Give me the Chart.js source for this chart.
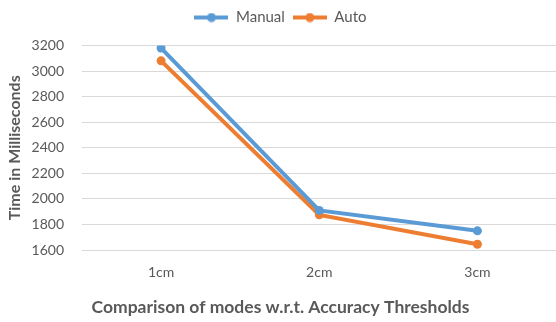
<!DOCTYPE html>
<html>
<head>
<meta charset="utf-8">
<script src="https://cdn.jsdelivr.net/npm/chart.js@4"></script>
<style>
  html, body { margin: 0; padding: 0; background: #fff; }
  .wrap { width: 556px; height: 322px; overflow: hidden; position: relative; }
  .wrap canvas { position: absolute; left: 0; top: 0; }
</style>
</head>
<body>
<div class="wrap"><canvas id="modesChart" width="561" height="322"></canvas></div>
<script>
const thresholds = ['1cm', '2cm', '3cm'];
const manualTimes = [3180, 1910, 1750];
const autoTimes = [3080, 1875, 1645];
const yTicks = [1600, 1800, 2000, 2200, 2400, 2600, 2800, 3000, 3200];

const blue = '#5B9BD5';
const orange = '#ED7D31';
const textGrey = '#595959';
const fontFamily = 'Lato, "Open Sans", sans-serif';

// legend marker: short line with a dot in the middle
function legendMarker(color) {
  const c = document.createElement('canvas');
  c.width = 34;
  c.height = 10;
  const g = c.getContext('2d');
  g.strokeStyle = color;
  g.lineWidth = 4;
  g.beginPath();
  g.moveTo(0, 5);
  g.lineTo(34, 5);
  g.stroke();
  g.fillStyle = color;
  g.beginPath();
  g.arc(17, 5, 4.5, 0, Math.PI * 2);
  g.fill();
  return c;
}
const markers = [legendMarker(blue), legendMarker(orange)];

// extra room between the legend and the plot
const legendGap = {
  id: 'legendGap',
  beforeInit(chart) {
    const fit = chart.legend.fit;
    chart.legend.fit = function() {
      fit.bind(chart.legend)();
      this.height += 10.5;
    };
  }
};

const ctx = document.getElementById('modesChart').getContext('2d');
const modesChart = new Chart(ctx, {
  type: 'line',
  data: {
    labels: thresholds,
    datasets: [{
      label: 'Manual',
      data: manualTimes,
      borderColor: blue,
      backgroundColor: blue,
      borderWidth: 4,
      pointRadius: 4.5,
      pointBorderWidth: 0,
      tension: 0
    }, {
      label: 'Auto',
      data: autoTimes,
      borderColor: orange,
      backgroundColor: orange,
      borderWidth: 4,
      pointRadius: 4.5,
      pointBorderWidth: 0,
      tension: 0
    }]
  },
  plugins: [legendGap],
  options: {
    responsive: false,
    animation: false,
    layout: { padding: { top: 2, left: 0, right: 0, bottom: 0 } },
    plugins: {
      tooltip: { enabled: false },
      legend: {
        position: 'top',
        labels: {
          usePointStyle: true,
          pointStyleWidth: 34,
          padding: 8,
          color: textGrey,
          font: { family: fontFamily, size: 15 },
          generateLabels: function(chart) {
            const items = Chart.defaults.plugins.legend.labels.generateLabels(chart);
            items.forEach((item, i) => { item.pointStyle = markers[i]; });
            return items;
          }
        }
      },
      title: {
        display: true,
        position: 'bottom',
        text: 'Comparison of modes w.r.t. Accuracy Thresholds',
        color: textGrey,
        padding: { top: 0, bottom: 4 },
        font: { family: fontFamily, size: 17.5, weight: 'bold' }
      }
    },
    scales: {
      x: {
        offset: true,
        grid: { display: false, drawTicks: false },
        border: { color: '#d9d9d9' },
        ticks: { color: textGrey, padding: 14, font: { family: fontFamily, size: 14 } },
        afterFit: function(scale) { scale.height = 47; }
      },
      y: {
        min: 1600,
        max: 3200,
        afterBuildTicks: function(scale) {
          scale.ticks = yTicks.map(v => ({ value: v }));
        },
        grid: { color: '#d9d9d9', drawTicks: false },
        border: { display: false },
        ticks: {
          color: textGrey,
          padding: 18,
          font: { family: fontFamily, size: 14 },
          callback: function(value) { return String(value); }
        },
        title: {
          display: true,
          text: 'Time in Milliseconds',
          color: textGrey,
          padding: { top: 5, bottom: 0 },
          font: { family: fontFamily, size: 16, weight: 'bold' }
        },
        afterFit: function(scale) { scale.width = 82; }
      }
    }
  }
});
</script>
</body>
</html>
